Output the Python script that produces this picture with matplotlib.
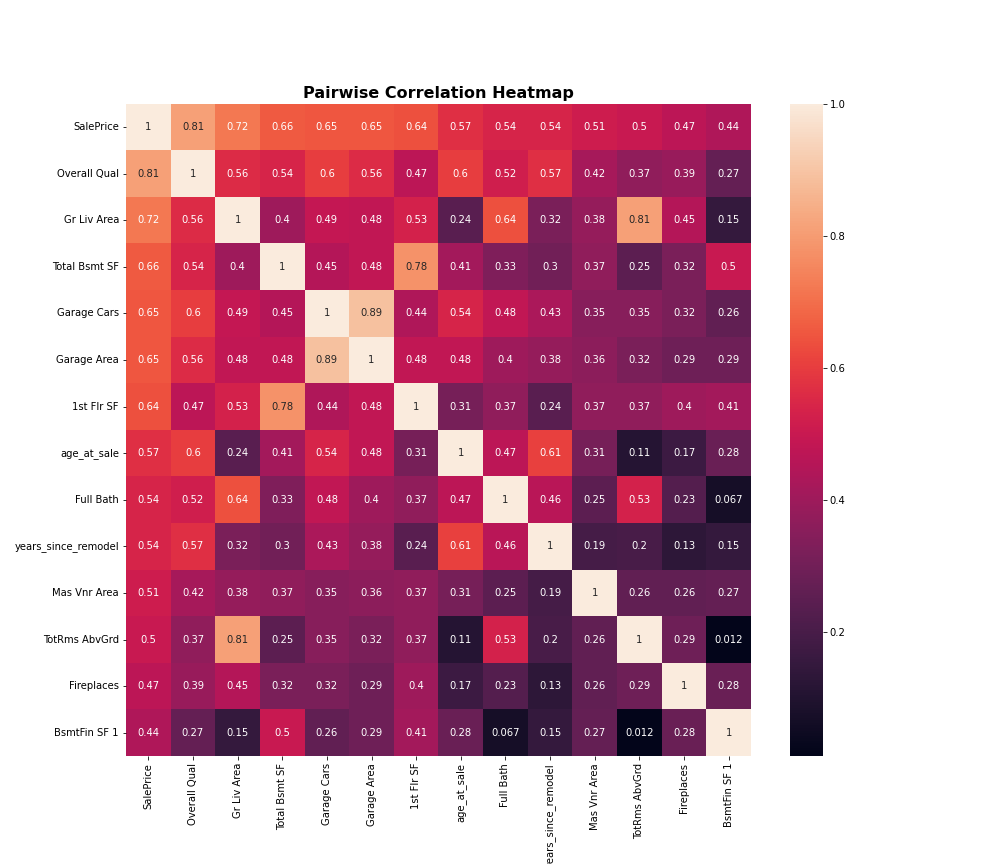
import numpy as np
import pandas as pd
import seaborn as sns
from matplotlib import pyplot as plt

labels = ["SalePrice", "Overall Qual", "Gr Liv Area", "Total Bsmt SF", "Garage Cars",
          "Garage Area", "1st Flr SF", "age_at_sale", "Full Bath", "years_since_remodel",
          "Mas Vnr Area", "TotRms AbvGrd", "Fireplaces", "BsmtFin SF 1"]

corr_rows = [
    [1, .81, .72, .66, .65, .65, .64, .57, .54, .54, .51, .5, .47, .44],
    [.81, 1, .56, .54, .6, .56, .47, .6, .52, .57, .42, .37, .39, .27],
    [.72, .56, 1, .4, .49, .48, .53, .24, .64, .32, .38, .81, .45, .15],
    [.66, .54, .4, 1, .45, .48, .78, .41, .33, .3, .37, .25, .32, .5],
    [.65, .6, .49, .45, 1, .89, .44, .54, .48, .43, .35, .35, .32, .26],
    [.65, .56, .48, .48, .89, 1, .48, .48, .4, .38, .36, .32, .29, .29],
    [.64, .47, .53, .78, .44, .48, 1, .31, .37, .24, .37, .37, .4, .41],
    [.57, .6, .24, .41, .54, .48, .31, 1, .47, .61, .31, .11, .17, .28],
    [.54, .52, .64, .33, .48, .4, .37, .47, 1, .46, .25, .53, .23, .067],
    [.54, .57, .32, .3, .43, .38, .24, .61, .46, 1, .19, .2, .13, .15],
    [.51, .42, .38, .37, .35, .36, .37, .31, .25, .19, 1, .26, .26, .27],
    [.5, .37, .81, .25, .35, .32, .37, .11, .53, .2, .26, 1, .29, .012],
    [.47, .39, .45, .32, .32, .29, .4, .17, .23, .13, .26, .29, 1, .28],
    [.44, .27, .15, .5, .26, .29, .41, .28, .067, .15, .27, .012, .28, 1],
]

corr = pd.DataFrame(np.array(corr_rows), index=labels, columns=labels)

# Match the old notebook inline layout.
plt.rcParams["figure.subplot.bottom"] = 0.125

fig, ax = plt.subplots(figsize=(14, 12), dpi=72)
sns.heatmap(corr, annot=True, ax=ax)
ax.set_title("Pairwise Correlation Heatmap", fontsize=16, fontweight="bold")

fig.savefig("out.png", dpi=72)
